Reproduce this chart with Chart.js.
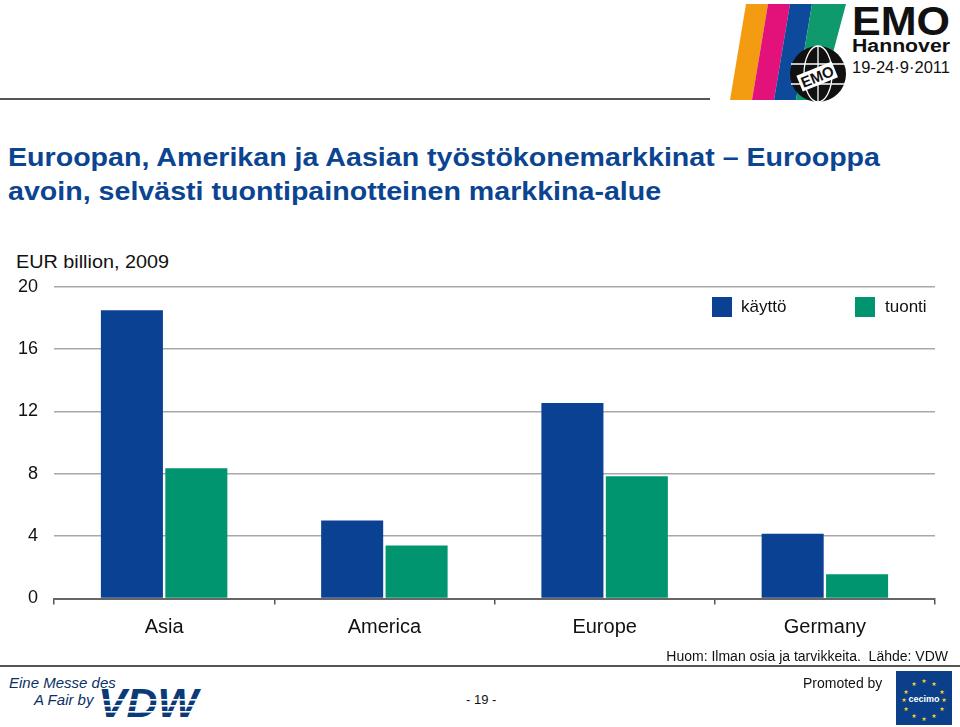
<!DOCTYPE html>
<html>
<head>
<meta charset="utf-8">
<script src="https://cdn.jsdelivr.net/npm/chart.js@4.4.1/dist/chart.umd.min.js"></script>
<style>
  body { margin: 0; width: 960px; height: 727px; background: #fff; position: relative; overflow: hidden;
         font-family: "Liberation Sans", Arial, sans-serif; }
  .abs { position: absolute; }
  #topline { left: 0; top: 98px; width: 710px; height: 2px; background: #555; }
  #title { left: 8px; top: 140px; font-weight: bold; font-size: 26px; line-height: 34px; color: #0b4592;
           transform: scaleX(1.1); transform-origin: left; white-space: nowrap; }
  #unit { left: 16px; top: 251px; font-size: 18.5px; color: #111; transform: scaleX(1.07); transform-origin: left; }
  #wrap { left: 0; top: 260px; width: 960px; height: 390px; }
  #legend .item { position: absolute; top: 297px; height: 20px; font-size: 17px; color: #111; }
  #legend .box { position: absolute; left: 0; top: 0; width: 20px; height: 20px; }
  #legend .lab { position: absolute; top: 0; line-height: 20px; white-space: nowrap; }
  #note { right: 12px; top: 648px; font-size: 14px; color: #111; }
  #botline { left: 0; top: 665px; width: 960px; height: 2px; background: #555; }
  #page { left: 466px; top: 692px; font-size: 13px; color: #111; }
  #promo { left: 803px; top: 675px; font-size: 14px; color: #111; }
  #fair { left: 9px; top: 674px; font-size: 15px; font-style: italic; color: #0b2f63; line-height: 17px; }
</style>
</head>
<body>
<div id="topline" class="abs"></div>

<svg class="abs" style="left:726px;top:2px" width="232" height="100">
  <polygon points="20,2 42,2 26,98 4,98" fill="#f39c12"/>
  <polygon points="42,2 64,2 48,98 26,98" fill="#e2127a"/>
  <polygon points="64,2 86,2 70,98 48,98" fill="#0d4a9b"/>
  <polygon points="86,2 120,2 104,62 94,98 70,98" fill="#0f9a6e"/>
  <circle cx="92" cy="72" r="28" fill="#111"/>
  <g stroke="#fff" stroke-width="1.3" fill="none">
    <ellipse cx="92" cy="72" rx="14" ry="28"/>
    <line x1="92" y1="44" x2="92" y2="100"/>
    <line x1="65" y1="62" x2="119" y2="62"/>
    <line x1="65" y1="82" x2="119" y2="82"/>
  </g>
  <rect x="72" y="66" width="38" height="17" fill="#fff" transform="rotate(-22 91 74)"/>
  <text x="91" y="80" text-anchor="middle" font-family="Liberation Sans" font-weight="bold" font-size="15" fill="#111" transform="rotate(-22 91 74)">EMO</text>
  <text x="126" y="33" font-family="Liberation Sans" font-weight="bold" font-size="40" fill="#111" textLength="98" lengthAdjust="spacingAndGlyphs">EMO</text>
  <text x="126" y="50" font-family="Liberation Sans" font-weight="bold" font-size="18" fill="#111" textLength="98" lengthAdjust="spacingAndGlyphs">Hannover</text>
  <text x="126" y="71" font-family="Liberation Sans" font-size="17" fill="#111" textLength="98" lengthAdjust="spacingAndGlyphs">19-24·9·2011</text>
</svg>

<div id="title" class="abs">Euroopan, Amerikan ja Aasian työstökonemarkkinat – Eurooppa<br>avoin, selvästi tuontipainotteinen markkina-alue</div>
<div id="unit" class="abs">EUR billion, 2009</div>

<div id="wrap" class="abs"><canvas id="chart"></canvas></div>
<div id="legend" class="abs" style="left:0;top:0"></div>

<div id="note" class="abs">Huom: Ilman osia ja tarvikkeita.&nbsp; Lähde: VDW</div>
<div id="botline" class="abs"></div>
<div id="fair" class="abs">Eine Messe des<br>&nbsp;&nbsp;&nbsp;&nbsp;&nbsp;&nbsp;A Fair by</div>
<svg class="abs" style="left:98px;top:686px" width="104" height="36">
  <text x="0" y="31" font-family="Liberation Sans" font-weight="900" font-style="italic" font-size="40" fill="#0b3a78" textLength="100" lengthAdjust="spacingAndGlyphs">VDW</text>
  <g fill="#fff">
    <rect x="0" y="13" width="104" height="1.6"/>
    <rect x="0" y="19" width="104" height="1.6"/>
    <rect x="0" y="25" width="104" height="1.6"/>
  </g>
</svg>
<div id="page" class="abs">- 19 -</div>
<div id="promo" class="abs">Promoted by</div>
<svg class="abs" style="left:896px;top:671px" width="56" height="54">
  <rect width="56" height="54" fill="#0b3f8a"/>
  <text x="28" y="31" text-anchor="middle" font-family="Liberation Sans" font-weight="bold" font-size="9" fill="#fff">cecimo</text>
  <g fill="#f4d21f" font-size="6" text-anchor="middle" font-family="DejaVu Sans">
    <text x="28" y="12">★</text><text x="18" y="15">★</text><text x="38" y="15">★</text>
    <text x="10" y="23">★</text><text x="46" y="23">★</text>
    <text x="8" y="31">★</text><text x="48" y="31">★</text>
    <text x="10" y="40">★</text><text x="46" y="40">★</text>
    <text x="18" y="47">★</text><text x="38" y="47">★</text><text x="28" y="50">★</text>
  </g>
</svg>

<script>
var categories = ['Asia', 'America', 'Europe', 'Germany'];
var kaytto = [18.5, 5.0, 12.55, 4.15];
var tuonti = [8.35, 3.4, 7.85, 1.55];
var yTicks = [0, 4, 8, 12, 16, 20];

var ctx = document.getElementById('chart').getContext('2d');
var myChart = new Chart(ctx, {
    type: 'bar',
    data: {
        labels: categories,
        datasets: [{
            label: 'käyttö',
            data: kaytto,
            backgroundColor: '#0a4193',
            borderWidth: 0,
            categoryPercentage: 0.585,
            barPercentage: 0.963
        }, {
            label: 'tuonti',
            data: tuonti,
            backgroundColor: '#00956e',
            borderWidth: 0,
            categoryPercentage: 0.585,
            barPercentage: 0.963
        }]
    },
    options: {
        responsive: true,
        maintainAspectRatio: false,
        animation: false,
        layout: { padding: { top: 16, right: 25, left: 0, bottom: 0 } },
        plugins: { legend: { display: false }, tooltip: { enabled: false } },
        scales: {
            x: {
                afterFit: function (s) { s.height = 51.5; },
                grid: { display: true, drawOnChartArea: false, drawTicks: true, tickLength: 6, color: '#555', lineWidth: 1.5, offset: true },
                border: { display: true, color: '#666', width: 2 },
                ticks: { color: '#111', padding: 11, font: { family: 'Liberation Sans', size: 20 } }
            },
            y: {
                min: 0,
                max: 20,
                afterFit: function (s) { s.width = 54; },
                afterBuildTicks: function (s) { s.ticks = yTicks.map(function (v) { return { value: v }; }); },
                grid: { color: '#a8a8a8', lineWidth: 1.5, drawTicks: false },
                border: { display: false },
                ticks: { color: '#111', padding: 16, font: { family: 'Liberation Sans', size: 18 } }
            }
        }
    }
});

// legend sits inside the plot, top right
var legendPos = [712, 855];
var legendText = [29, 30];
var legend = document.getElementById('legend');
myChart.data.datasets.forEach(function (ds, i) {
    var item = document.createElement('div');
    item.className = 'item';
    item.style.left = legendPos[i] + 'px';
    item.innerHTML = '<div class="box" style="background:' + ds.backgroundColor + '"></div>' +
        '<div class="lab" style="left:' + legendText[i] + 'px">' + ds.label + '</div>';
    legend.appendChild(item);
});
</script>
</body>
</html>
